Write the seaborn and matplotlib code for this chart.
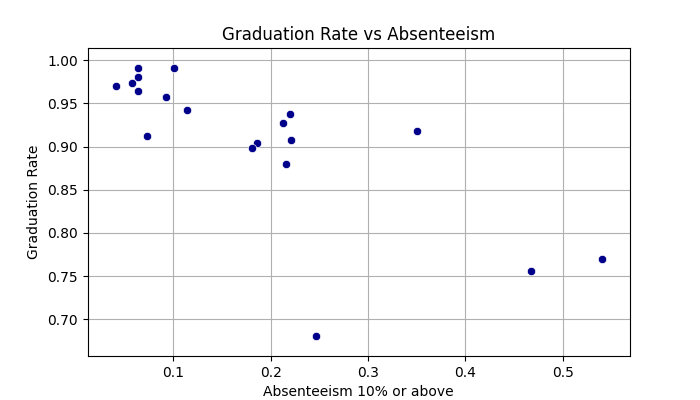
import matplotlib
matplotlib.use("Agg")
import matplotlib.pyplot as plt
import seaborn as sns
import pandas as pd

# absenteeism share (10% or above) and graduation rate per school
absenteeism = [0.0415, 0.0639, 0.0639, 0.0577, 0.0639, 0.1008, 0.0928, 0.1144,
               0.0732, 0.2201, 0.2131, 0.2211, 0.1856, 0.1814, 0.2163,
               0.3500, 0.4672, 0.5400, 0.2463]
graduation = [0.9698, 0.9907, 0.9802, 0.9733, 0.9648, 0.9907, 0.9578, 0.9427,
              0.9128, 0.9380, 0.9276, 0.9081, 0.9047, 0.8985, 0.8799,
              0.9176, 0.7554, 0.7693, 0.6803]

df = pd.DataFrame({"Absenteeism 10% or above": absenteeism,
                   "Graduation Rate": graduation})

fig, ax = plt.subplots(figsize=(7, 4), dpi=100)
sns.scatterplot(data=df, x="Absenteeism 10% or above", y="Graduation Rate",
                color="darkblue", s=36, edgecolor="white", linewidth=0.5, ax=ax)
ax.set_axisbelow(True)
ax.grid(True)
ax.set_xlim(0.012, 0.569)
ax.set_ylim(0.6575, 1.0142)
ax.set_title("Graduation Rate vs Absenteeism")

plt.savefig("out.png", dpi=100)
